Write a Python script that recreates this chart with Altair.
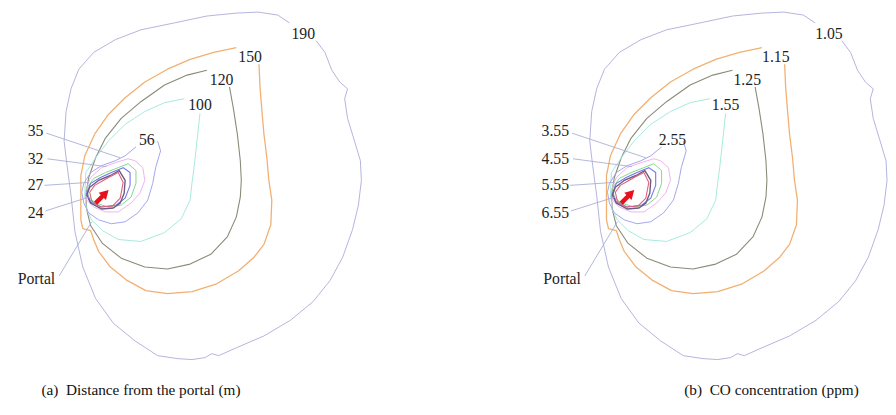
import altair as alt
import pandas as pd

# ---- contour vertices (panel (a) frame) ----
c190_x = [321, 330, 337, 345, 353, 350, 353, 360, 366, 367, 364, 358, 348, 335, 318, 295, 268, 240, 222, 215, 208, 195, 180, 160, 137, 115, 97, 84, 76, 72, 68, 65, 67, 72, 80, 95, 117, 143, 177, 210, 240, 262, 282, 294]
c190_y = [38, 50, 68, 80, 87, 97, 117, 140, 160, 180, 205, 230, 258, 282, 303, 322, 338, 350, 358, 356, 360, 362, 361, 358, 343, 325, 300, 268, 232, 195, 165, 140, 110, 87, 67, 50, 37, 27, 20, 13, 10, 9, 12, 20]
c150_x = [263, 264, 266, 268, 271, 273, 276, 275, 268, 258, 242, 220, 195, 170, 148, 128, 112, 100, 95, 92, 84, 82, 82, 82, 86, 96, 110, 127, 147, 170, 193, 217, 240]
c150_y = [62, 85, 110, 133, 157, 180, 200, 225, 245, 258, 272, 285, 293, 295, 292, 281, 268, 252, 240, 231, 229, 220, 200, 175, 155, 133, 113, 96, 80, 67, 57, 50, 45]
c120_x = [233, 237, 241, 244, 245, 244, 240, 231, 214, 193, 170, 147, 123, 104, 92, 88, 87, 90, 97, 107, 123, 143, 167, 190, 210]
c120_y = [85, 107, 133, 160, 180, 197, 217, 237, 255, 265, 270, 268, 259, 244, 226, 210, 195, 177, 157, 137, 117, 100, 83, 73, 68]
c100_x = [203, 200, 197, 195, 193, 184, 167, 143, 120, 104, 93, 88, 86, 87, 97, 110, 127, 147, 167, 187]
c100_y = [112, 140, 167, 182, 200, 219, 233, 242, 240, 231, 220, 210, 195, 172, 157, 140, 123, 110, 101, 97]
c56_x = [160, 163, 158, 155, 150, 140, 127, 113, 100, 90, 85, 83, 85, 92, 103, 117, 127, 138]
c56_y = [140, 150, 167, 183, 200, 213, 222, 224, 220, 213, 203, 192, 183, 172, 165, 160, 155, 146]
c35_x = [130, 137, 145, 147, 142, 133, 120, 107, 95, 88, 87, 92, 103, 117]
c35_y = [158, 160, 167, 180, 193, 203, 212, 212, 207, 200, 190, 177, 167, 162]
c32_x = [120, 130, 138, 138, 133, 123, 110, 97, 90, 88, 95, 107]
c32_y = [167, 163, 170, 183, 197, 205, 207, 203, 197, 188, 178, 172]
c27_x = [113, 125, 132, 132, 127, 118, 103, 92, 88, 92, 102]
c27_y = [172, 167, 172, 185, 198, 205, 207, 202, 193, 183, 177]
c24_x = [112, 121, 127, 126, 122, 115, 103, 92, 88, 91, 100]
c24_y = [175, 170, 180, 193, 203, 208, 209, 203, 195, 187, 180]
cin_x = [110, 120, 125, 122, 114, 102, 93, 91, 96, 103]
cin_y = [177, 172, 182, 198, 206, 207, 201, 192, 185, 181]

contour_ids = ["c190", "c150", "c120", "c100", "c56", "c35", "c32", "c27", "c24", "cin"]
contour_colors = ["#b2b4dc", "#f1b072", "#8a8a78", "#a4eadc", "#a4a4ee", "#f0b2ee", "#84d884", "#7474ee", "#6c5c84", "#e2607a"]
contour_widths = [1.0, 1.3, 1.1, 1.0, 1.0, 1.0, 1.0, 1.1, 1.4, 1.1]
contour_closed = [False, False, False, False, False, True, True, True, True, True]
contour_xs = [c190_x, c150_x, c120_x, c100_x, c56_x, c35_x, c32_x, c27_x, c24_x, cin_x]
contour_ys = [c190_y, c150_y, c120_y, c100_y, c56_y, c35_y, c32_y, c27_y, c24_y, cin_y]

# ---- labels ----
labels_a = ["190", "150", "120", "100", "56"]
labels_b = ["1.05", "1.15", "1.25", "1.55", "2.55"]
label_x = [308, 254, 225, 203, 149]
label_y = [31, 55, 78, 103, 139]
side_a = ["35", "32", "27", "24"]
side_b = ["3.55", "4.55", "5.55", "6.55"]
side_y = [130, 158, 185, 213]
leader_x1 = [47, 48, 45, 46, 60]
leader_y1 = [132, 158, 185, 211, 277]
leader_x2 = [122, 108, 90, 90, 93]
leader_y2 = [157, 166, 182, 197, 222]
captions = ["(a)\u00a0 Distance from the portal (m)", "(b)\u00a0 CO concentration (ppm)"]
caption_x = [42, 695]
PANEL_SHIFT = 534

rows = []
for p, shift in enumerate([0, PANEL_SHIFT]):
    for cid, xs, ys, closed, w in zip(contour_ids, contour_xs, contour_ys, contour_closed, contour_widths):
        pts = list(zip(xs, ys))
        if closed:
            pts = pts + [pts[0]]
        for i, (x, y) in enumerate(pts):
            rows.append({"key": f"{p}-{cid}", "cid": cid, "w": w, "i": i, "x": x + shift, "y": y})
lines_df = pd.DataFrame(rows)

lab_rows, side_rows, lead_rows, arrow_rows = [], [], [], []
for p, (shift, labs, sides) in enumerate([(0, labels_a, side_a), (PANEL_SHIFT, labels_b, side_b)]):
    for t, x, y in zip(labs, label_x, label_y):
        lab_rows.append({"t": t, "x": x + shift, "y": y})
    for t, y in zip(sides, side_y):
        side_rows.append({"t": t, "x": 44 + shift, "y": y})
    side_rows.append({"t": "Portal", "x": 56 + shift, "y": 280})
    for k, (a, b, c, d) in enumerate(zip(leader_x1, leader_y1, leader_x2, leader_y2)):
        lead_rows.append({"k": f"{p}-{k}", "x": a + shift, "y": b, "x2": c + shift, "y2": d})
    arrow_rows.append({"x": 97 + shift, "y": 203, "x2": 105 + shift, "y2": 195, "hx": 107 + shift, "hy": 193})

lab_df = pd.DataFrame(lab_rows)
side_df = pd.DataFrame(side_rows)
lead_df = pd.DataFrame(lead_rows)
arrow_df = pd.DataFrame(arrow_rows)
cap_df = pd.DataFrame({"t": captions, "x": caption_x, "y": [393, 393]})

xs = alt.Scale(domain=[8, 888], nice=False, zero=False)
ys = alt.Scale(domain=[8, 407], nice=False, zero=False, reverse=True)
X = lambda f="x": alt.X(f"{f}:Q", scale=xs, axis=None)
Y = lambda f="y": alt.Y(f"{f}:Q", scale=ys, axis=None)

lines = alt.Chart(lines_df).mark_line(strokeJoin="round").encode(
    x=X(), y=Y(), detail="key:N", order="i:Q",
    color=alt.Color("cid:N", scale=alt.Scale(domain=contour_ids, range=contour_colors), legend=None),
    strokeWidth=alt.StrokeWidth("w:Q", scale=None, legend=None),
)
leaders = alt.Chart(lead_df).mark_rule(color="#a8aed2", strokeWidth=0.9).encode(
    x=X(), y=Y(), x2="x2:Q", y2="y2:Q")
arrow_shaft = alt.Chart(arrow_df).mark_rule(color="#e8101c", strokeWidth=4.5).encode(
    x=X(), y=Y(), x2="x2:Q", y2="y2:Q")
arrow_head = alt.Chart(arrow_df).mark_point(shape="triangle-up", filled=True, color="#e8101c", size=110, angle=45, opacity=1).encode(
    x=X("hx"), y=Y("hy"))
font = "Liberation Serif"
labels = alt.Chart(lab_df).mark_text(font=font, fontSize=16, color="#1e1e1e", align="center", baseline="middle").encode(
    x=X(), y=Y(), text="t:N")
sides = alt.Chart(side_df).mark_text(font=font, fontSize=16, color="#1e1e1e", align="right", baseline="middle").encode(
    x=X(), y=Y(), text="t:N")
caps = alt.Chart(cap_df).mark_text(font=font, fontSize=15.5, color="#111111", align="left", baseline="middle").encode(
    x=X(), y=Y(), text="t:N")

chart = alt.layer(lines, leaders, arrow_shaft, arrow_head, labels, sides, caps).properties(
    width=880, height=399, padding=0
).configure_view(stroke=None)

chart.save("out.html", embed_options={"renderer": "svg", "actions": False})
